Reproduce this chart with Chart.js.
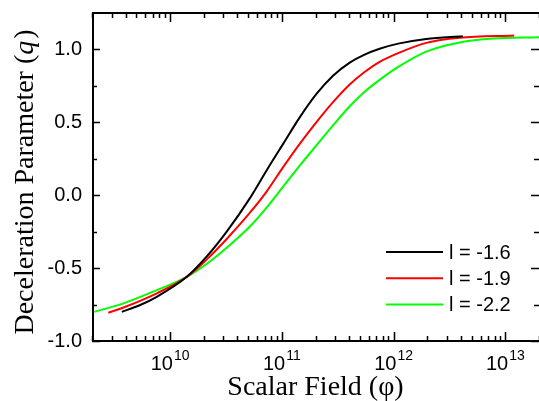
<!DOCTYPE html>
<html>
<head>
<meta charset="utf-8">
<script src="https://cdn.jsdelivr.net/npm/chart.js@4/dist/chart.umd.min.js"></script>
<style>
  html, body { margin: 0; padding: 0; background: #fff; }
  #wrap { width: 539px; height: 401px; }
</style>
</head>
<body>
<div id="wrap"><canvas id="chart" width="539" height="401"></canvas></div>
<script>
// values
const seriesLabels = ["l = -1.6", "l = -1.9", "l = -2.2"];
const seriesColors = ["#000000", "#ff0000", "#00ff00"];

const phiBlack = [3.7e9, 5.4e9, 7.6e9, 1.41e10, 2.13e10, 3.21e10, 5.18e10, 7.3e10, 1.03e11, 1.45e11, 2.04e11, 2.87e11, 4.05e11, 5.5e11, 7.5e11, 1.1e12, 1.96e12, 4.16e12];
const qBlack = [-0.80, -0.753, -0.697, -0.56, -0.42, -0.25, -0.02, 0.17, 0.354, 0.536, 0.695, 0.82, 0.91, 0.965, 1.005, 1.04, 1.072, 1.091];

const phiRed = [2.8e9, 3.83e9, 7.6e9, 1.41e10, 2.13e10, 3.21e10, 5.18e10, 7.3e10, 1.03e11, 1.45e11, 2.04e11, 2.87e11, 4.05e11, 5.5e11, 7.5e11, 1.1e12, 1.96e12, 3.9e12, 1.2e13];
const qRed = [-0.806, -0.77, -0.673, -0.56, -0.44, -0.30, -0.12, 0.025, 0.194, 0.354, 0.502, 0.639, 0.76, 0.845, 0.915, 0.975, 1.045, 1.08, 1.096];

const phiGreen = [2.1e9, 3.83e9, 7.6e9, 1.41e10, 2.13e10, 3.21e10, 5.18e10, 7.3e10, 1.03e11, 1.45e11, 2.04e11, 2.87e11, 4.05e11, 5.5e11, 7.6e11, 1.1e12, 1.96e12, 3.9e12, 7.8e12, 2.0e13];
const qGreen = [-0.80, -0.742, -0.651, -0.56, -0.47, -0.36, -0.215, -0.085, 0.06, 0.205, 0.342, 0.479, 0.61, 0.71, 0.795, 0.88, 0.985, 1.048, 1.075, 1.084];

const xMin = 2e9, xMax = 2e13;
const yMin = -1.0, yMax = 1.25;
const xTicks = [1e10, 1e11, 1e12, 1e13];
const yTicks = [-1.0, -0.5, 0.0, 0.5, 1.0];
const yMinorTicks = [-0.75, -0.25, 0.25, 0.75];

const xTitle = "Scalar Field (\u03c6)";
const yTitle = "Deceleration Parameter (";
const yTitleVar = "q";

const SANS = "'Liberation Sans', Arial, sans-serif";
const SERIF = "'Liberation Serif', 'Times New Roman', serif";

const toPoints = (xs, ys) => xs.map((x, i) => ({ x: x, y: ys[i] }));

// frame, inward ticks, x labels with exponents, titles, legend
const decorPlugin = {
  id: "decor",
  afterDraw(chart) {
    const ctx = chart.ctx;
    const area = chart.chartArea;
    const xs = chart.scales.x;
    const ys = chart.scales.y;
    ctx.save();
    ctx.strokeStyle = "#000";
    ctx.fillStyle = "#000";
    ctx.lineWidth = 2;
    ctx.strokeRect(area.left + 1, area.top, area.right - area.left, area.bottom - area.top);

    // x ticks (bottom and top)
    ctx.lineWidth = 1.5;
    for (let e = 9; e <= 13; e++) {
      for (let m = 1; m <= 9; m++) {
        const v = m * Math.pow(10, e);
        if (v < xMin || v > xMax) continue;
        const px = Math.round(xs.getPixelForValue(v)) + 0.5;
        const len = m === 1 ? 9 : 5;
        ctx.beginPath();
        ctx.moveTo(px, area.bottom);
        ctx.lineTo(px, area.bottom - len);
        ctx.moveTo(px, area.top);
        ctx.lineTo(px, area.top + len);
        ctx.stroke();
      }
    }
    // y ticks (left and right)
    yTicks.concat(yMinorTicks).forEach(v => {
      const py = Math.round(ys.getPixelForValue(v)) + 0.5;
      const len = yTicks.includes(v) ? 8 : 5;
      ctx.beginPath();
      ctx.moveTo(area.left, py);
      ctx.lineTo(area.left + len, py);
      ctx.moveTo(area.right, py);
      ctx.lineTo(area.right - len, py);
      ctx.stroke();
    });

    // x tick labels: 10 with raised exponent
    ctx.textBaseline = "alphabetic";
    ctx.textAlign = "left";
    xTicks.forEach(v => {
      const base = "10";
      const exp = String(Math.round(Math.log10(v)));
      ctx.font = "20px " + SANS;
      const wb = ctx.measureText(base).width;
      ctx.font = "14px " + SANS;
      const we = ctx.measureText(exp).width;
      const px = xs.getPixelForValue(v);
      const x0 = px - (wb + we + 1) / 2;
      ctx.font = "20px " + SANS;
      ctx.fillText(base, x0, 370);
      ctx.font = "14px " + SANS;
      ctx.fillText(exp, x0 + wb + 1, 360);
    });

    // x title
    ctx.font = "28px " + SERIF;
    ctx.textAlign = "center";
    ctx.fillText(xTitle, (area.left + area.right) / 2, 395);

    // y title, rotated, with italic q
    ctx.save();
    ctx.translate(33, 182);
    ctx.rotate(-Math.PI / 2);
    ctx.textAlign = "left";
    ctx.font = "28px " + SERIF;
    const w1 = ctx.measureText(yTitle).width;
    const w3 = ctx.measureText(")").width;
    ctx.font = "italic 28px " + SERIF;
    const w2 = ctx.measureText(yTitleVar).width;
    const x = -(w1 + w2 + w3 + 2) / 2;
    ctx.font = "28px " + SERIF;
    ctx.fillText(yTitle, x, 0);
    ctx.font = "italic 28px " + SERIF;
    ctx.fillText(yTitleVar, x + w1, 0);
    ctx.font = "28px " + SERIF;
    ctx.fillText(")", x + w1 + w2 + 2, 0);
    ctx.restore();

    // legend
    ctx.textAlign = "left";
    ctx.textBaseline = "middle";
    ctx.font = "20px " + SANS;
    chart.data.datasets.forEach((ds, i) => {
      const y = 252 + i * 26.3;
      ctx.strokeStyle = ds.borderColor;
      ctx.lineWidth = 2;
      ctx.beginPath();
      ctx.moveTo(386, y);
      ctx.lineTo(443, y);
      ctx.stroke();
      ctx.fillText(ds.label, 449, y + 1);
    });
    ctx.restore();
  }
};

const datasets = [
  { label: seriesLabels[0], data: toPoints(phiBlack, qBlack), borderColor: seriesColors[0] },
  { label: seriesLabels[1], data: toPoints(phiRed, qRed), borderColor: seriesColors[1] },
  { label: seriesLabels[2], data: toPoints(phiGreen, qGreen), borderColor: seriesColors[2] }
].map(ds => ({ ...ds, borderWidth: 2, pointRadius: 0, fill: false, cubicInterpolationMode: "monotone" }));

new Chart(document.getElementById("chart").getContext("2d"), {
  type: "line",
  data: { datasets: datasets },
  options: {
    responsive: false,
    animation: false,
    layout: { padding: { left: 0, top: 13, right: 0, bottom: 0 } },
    plugins: { legend: { display: false }, tooltip: { enabled: false } },
    scales: {
      x: {
        type: "logarithmic",
        min: xMin,
        max: xMax,
        grid: { display: false, drawTicks: false },
        border: { display: false },
        ticks: { display: false },
        afterFit: s => { s.height = 60; s.paddingLeft = 0; s.paddingRight = 0; }
      },
      y: {
        type: "linear",
        min: yMin,
        max: yMax,
        grid: { display: false, drawTicks: false },
        border: { display: false },
        afterBuildTicks: s => { s.ticks = yTicks.map(v => ({ value: v })); },
        ticks: {
          color: "#000",
          padding: 10,
          font: { family: SANS, size: 20 },
          callback: v => v.toFixed(1)
        },
        afterFit: s => { s.width = 92; s.paddingTop = 0; s.paddingBottom = 0; }
      }
    }
  },
  plugins: [decorPlugin]
});
</script>
</body>
</html>
